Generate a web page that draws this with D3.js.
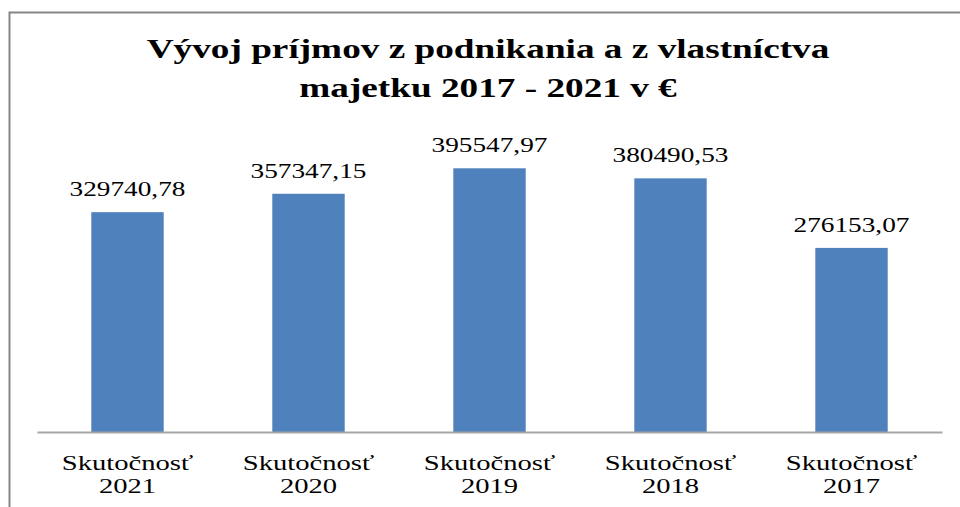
<!DOCTYPE html>
<html>
<head>
<meta charset="utf-8">
<script src="https://cdn.jsdelivr.net/npm/d3@7"></script>
<style>
  body { margin: 0; background: #fff; }
</style>
</head>
<body>
<div id="container"></div>
<script>
var width = 960;
var height = 507;

// data
var years = ["2021", "2020", "2019", "2018", "2017"];
var categoryLabel = "Skutočnosť";
var values = [329740.78, 357347.15, 395547.97, 380490.53, 276153.07];
var titleLines = ["Vývoj príjmov z podnikania a z vlastníctva", "majetku 2017 - 2021 v €"];
var yMax = 450000;

var barColor = "#4f81bd";
var serif = "'Liberation Serif', 'Times New Roman', serif";
var stretch = 1.3; // the original picture is stretched horizontally

var svg = d3.select("#container").append("svg")
    .attr("width", width)
    .attr("height", height)
    .style("font-family", serif);

// chart border (continues past the right and bottom edge)
svg.append("rect")
    .attr("x", 9.5)
    .attr("y", 12.5)
    .attr("width", 1000)
    .attr("height", 600)
    .attr("fill", "white")
    .attr("stroke", "#868686")
    .attr("stroke-width", 2);

var x = d3.scaleBand()
    .domain(years)
    .range([37, 942])
    .paddingInner(0.6)
    .paddingOuter(0.3);

var y = d3.scaleLinear()
    .domain([0, yMax])
    .range([432, 132]);

function stretchedText(sel, cx, cy, sx) {
    return sel.attr("transform", "translate(" + cx + "," + cy + ") scale(" + (sx || stretch) + ",1)")
        .attr("text-anchor", "middle")
        .attr("font-family", serif)
        .style("font-family", serif);
}

// title
svg.selectAll(".title")
    .data(titleLines)
    .enter().append("text")
    .attr("class", "title")
    .each(function(d, i) { stretchedText(d3.select(this), 488, 58 + i * 39, 1.33); })
    .attr("font-weight", "bold")
    .attr("font-size", 28)
    .attr("fill", "#000")
    .text(function(d) { return d; });

// bars
var data = years.map(function(yr, i) { return {year: yr, value: values[i]}; });

svg.selectAll(".bar")
    .data(data)
    .enter().append("rect")
    .attr("class", "bar")
    .attr("x", function(d) { return x(d.year); })
    .attr("y", function(d) { return y(d.value); })
    .attr("width", x.bandwidth())
    .attr("height", function(d) { return y(0) - y(d.value); })
    .attr("fill", barColor);

// value labels
var fmt = d3.format(".2f");
svg.selectAll(".val")
    .data(data)
    .enter().append("text")
    .attr("class", "val")
    .each(function(d) {
        stretchedText(d3.select(this), x(d.year) + x.bandwidth() / 2, y(d.value) - 16);
    })
    .attr("font-size", 21)
    .attr("fill", "#000")
    .text(function(d) { return fmt(d.value).replace(".", ","); });

// x axis
var xAxis = svg.append("g")
    .attr("transform", "translate(0," + y(0) + ")")
    .call(d3.axisBottom(x).tickSize(0).tickFormat(""))
    .attr("font-family", serif);
xAxis.select(".domain")
    .attr("stroke", "#a6a6a6")
    .attr("stroke-width", 2);

xAxis.selectAll(".tick text").remove();
xAxis.selectAll(".tick").each(function(d) {
    var t = d3.select(this);
    [categoryLabel, d].forEach(function(line, i) {
        stretchedText(t.append("text"), 0, 38 + i * 23)
            .attr("fill", "#000")
            .attr("font-size", 22)
            .text(line);
    });
});
</script>
</body>
</html>
